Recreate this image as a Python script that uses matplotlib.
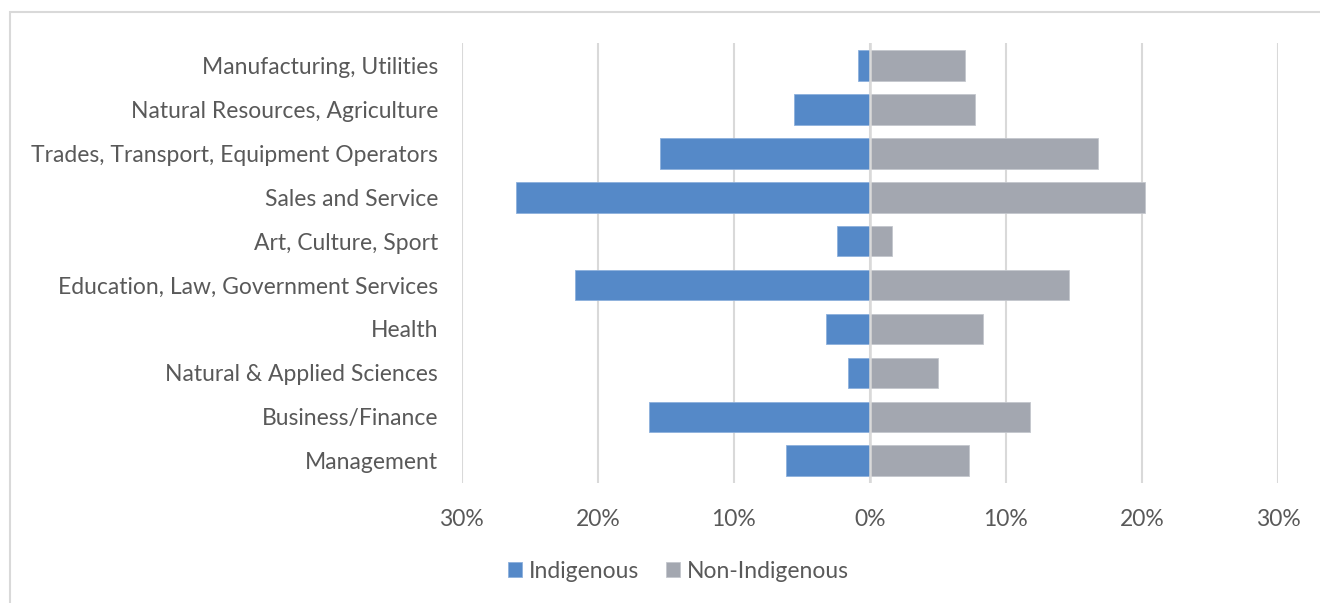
import numpy as np
import matplotlib.pyplot as plt
from matplotlib.patches import Rectangle
from matplotlib.ticker import FuncFormatter

plt.rcParams['font.family'] = ['Lato', 'DejaVu Sans']

# occupations, top to bottom as shown
categories = ["Manufacturing, Utilities", "Natural Resources, Agriculture",
              "Trades, Transport, Equipment Operators", "Sales and Service",
              "Art, Culture, Sport", "Education, Law, Government Services",
              "Health", "Natural & Applied Sciences", "Business/Finance",
              "Management"]
indigenous = [0.9, 5.6, 15.4, 26.0, 2.4, 21.7, 3.25, 1.6, 16.2, 6.2]
non_indigenous = [7.0, 7.7, 16.8, 20.2, 1.6, 14.65, 8.3, 5.0, 11.75, 7.25]
ticks = [-30, -20, -10, 0, 10, 20, 30]

blue = '#5589c8'
grey = '#a3a7b0'
txt = '#595959'
grid = '#d9d9d9'
fs = 16.5

fig = plt.figure(figsize=(13.2, 6.03), dpi=100)
ax = fig.add_axes([0.3498, 0.1993, 0.6184, 0.7289])

y = np.arange(len(categories))
ax.barh(y, -np.array(indigenous), height=0.7, color=blue, edgecolor='#8db0dc',
        linewidth=0.6, label='Indigenous', zorder=2)
ax.barh(y, non_indigenous, height=0.7, color=grey, edgecolor='#c4c7cd',
        linewidth=0.6, label='Non-Indigenous', zorder=2)

ax.set_xlim(-30, 30)
ax.set_ylim(-0.5, len(categories) - 0.5)
ax.invert_yaxis()
ax.set_xticks(ticks)
ax.xaxis.set_major_formatter(FuncFormatter(lambda v, p: f"{abs(int(round(v)))}%"))
ax.set_yticks(y)
ax.set_yticklabels(categories)
ax.grid(axis='x', color=grid, linewidth=1.5, zorder=0)
ax.axvline(0, color=grid, linewidth=1.8, zorder=3)
ax.set_axisbelow(True)
for s in ax.spines.values():
    s.set_visible(False)
ax.tick_params(axis='both', length=0, labelsize=fs, colors=txt)
ax.tick_params(axis='x', pad=19)
ax.tick_params(axis='y', pad=17)

fig.legend(loc='center', bbox_to_anchor=(0.514, 0.053), ncol=2, frameon=False,
           handlelength=0.6, handleheight=0.6, handletextpad=0.3,
           columnspacing=1.2, fontsize=fs, labelcolor=txt)

fig.patches.append(Rectangle((10 / 1320, -0.05), 1.1, 1 - 12 / 603 + 0.05,
                             transform=fig.transFigure, fill=False,
                             edgecolor=grid, linewidth=1.5))

fig.savefig('out.png', dpi=100)
